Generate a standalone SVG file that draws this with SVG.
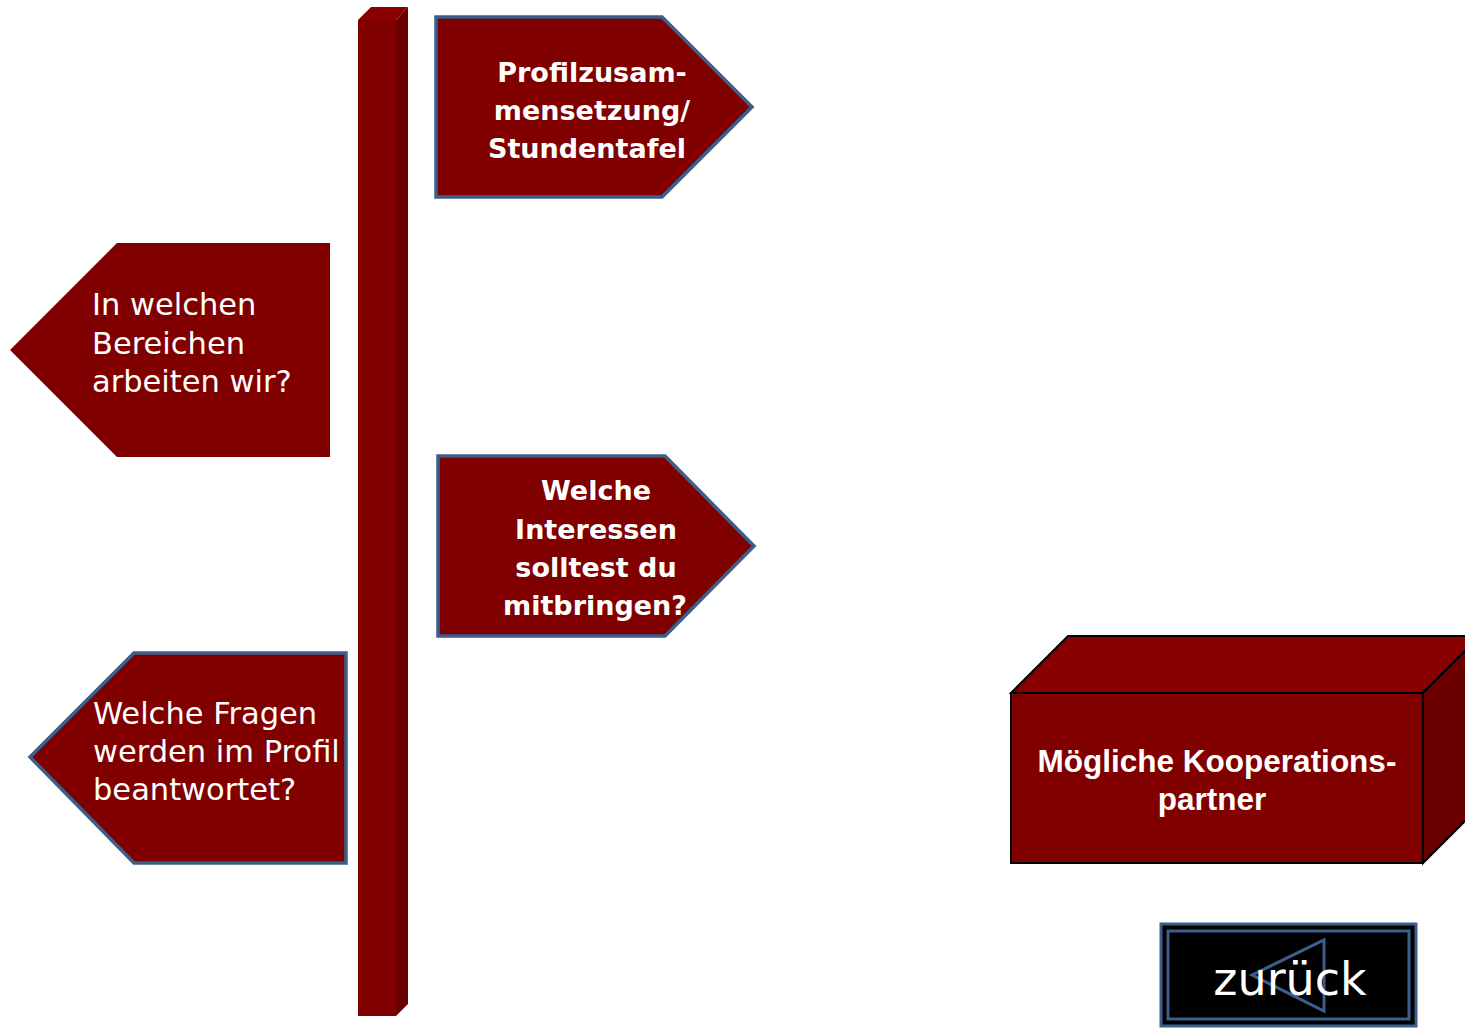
<svg xmlns="http://www.w3.org/2000/svg" width="1465" height="1028" viewBox="0 0 1465 1028">
<style>
.sign{fill:#800000;stroke:#3b5f8c;stroke-width:3.5}
.t{fill:#fff;font-family:"DejaVu Sans","Open Sans",sans-serif;font-size:30.5px}
.tb{font-weight:bold;font-size:27px}
.ar{fill:#fff;font-family:"Liberation Sans",Arial,sans-serif;font-weight:bold;font-size:31.5px}
</style>
<rect width="1465" height="1028" fill="#fff"/>
<g id="pole">
<polygon points="358,20 371,7 408,7 396,20" fill="#8a0000"/>
<rect x="358" y="20" width="38" height="996" fill="#800000"/>
<polygon points="396,20 408,7 408,1004 396,1016" fill="#6b0000"/>
</g>
<g id="sign-profil">
<polygon class="sign" points="436,17 662,17 752,107 662,197 436,197"/>
<text class="t tb" text-anchor="middle"><tspan x="592" y="82">Profilzusam-</tspan><tspan x="592" y="120">mensetzung/</tspan><tspan x="587" y="158">Stundentafel</tspan></text>
</g>
<g id="sign-bereiche">
<polygon points="10,350 117,243 330,243 330,457 117,457" fill="#800000"/>
<text class="t"><tspan x="92" y="315">In welchen</tspan><tspan x="92" y="354">Bereichen</tspan><tspan x="92" y="392">arbeiten wir?</tspan></text>
</g>
<g id="sign-interessen">
<polygon class="sign" points="438,456 665,456 754,546 665,636 438,636"/>
<text class="t tb" text-anchor="middle"><tspan x="596" y="500">Welche</tspan><tspan x="596" y="539">Interessen</tspan><tspan x="596" y="577">solltest du</tspan><tspan x="595" y="615">mitbringen?</tspan></text>
</g>
<g id="sign-fragen">
<polygon class="sign" points="30,757 134,653 346,653 346,863 134,863"/>
<text class="t"><tspan x="93" y="724">Welche Fragen</tspan><tspan x="93" y="762">werden im Profil</tspan><tspan x="93" y="800">beantwortet?</tspan></text>
</g>
<g id="box-kooperation" stroke="#000" stroke-width="2" stroke-linejoin="miter">
<polygon points="1011,693 1068,636 1480,636 1423,693" fill="#880000"/>
<polygon points="1423,693 1480,636 1480,806 1423,863" fill="#6a0000"/>
<rect x="1011" y="693" width="412" height="170" fill="#800000"/>
<text class="ar" stroke="none" text-anchor="middle"><tspan x="1217" y="772">Mögliche Kooperations-</tspan><tspan x="1212" y="810">partner</tspan></text>
</g>
<g id="btn-zurueck">
<rect x="1161" y="924" width="255" height="102" fill="#000" stroke="#3b5f8c" stroke-width="3"/>
<rect x="1168" y="931" width="241" height="88" fill="none" stroke="#3b5f8c" stroke-width="3"/>
<polygon points="1252,975 1324,940 1324,1011" fill="none" stroke="#3b5f8c" stroke-width="3"/>
<text x="1290" y="995" fill="#fff" font-family="DejaVu Sans,sans-serif" font-size="46" text-anchor="middle">zurück</text>
</g>
<g id="connectors"/>
</svg>
